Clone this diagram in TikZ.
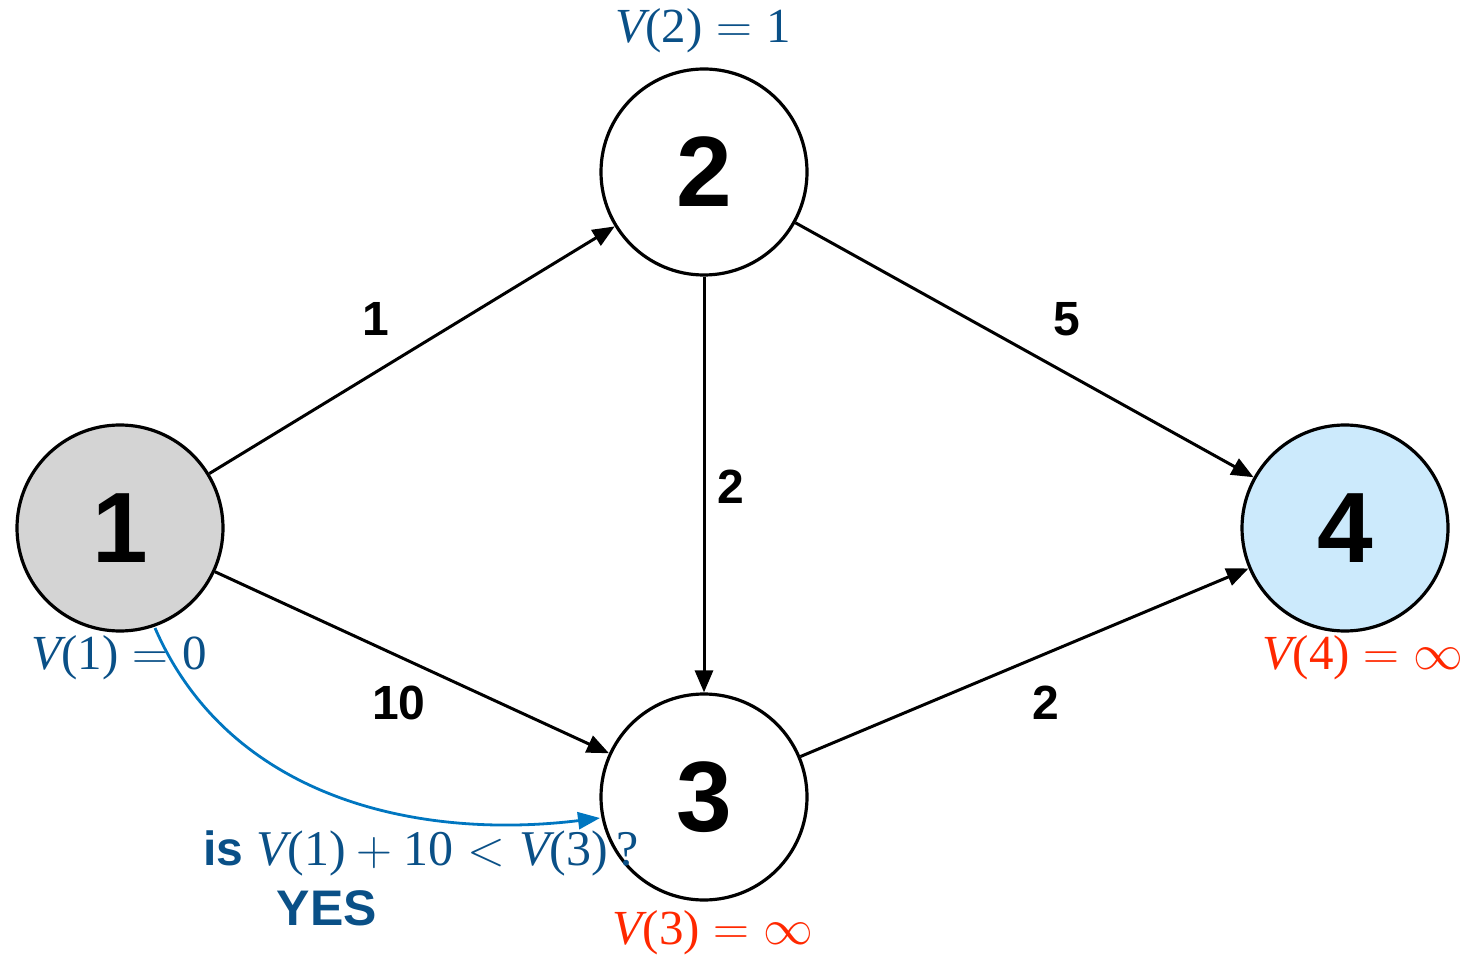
\documentclass[tikz,border=0pt]{standalone}
\usepackage{fontspec}
\setmainfont{Liberation Sans}
\newfontfamily\tnr{Liberation Serif}
\usetikzlibrary{arrows.meta}
\definecolor{vblue}{RGB}{10,80,135}
\definecolor{cblue}{RGB}{0,118,192}
\definecolor{vred}{RGB}{255,40,0}
\definecolor{ngray}{RGB}{212,212,212}
\definecolor{nblue}{RGB}{204,234,252}
\newcommand{\Vl}[2]{{\itshape V}(#1)${}={}$#2}
\tikzset{
  vnode/.style={circle,draw=black,line width=1.6pt,minimum size=103pt,inner sep=0pt,font=\fontsize{50}{52}\selectfont\bfseries},
  edgearrow/.style={line width=1.5pt,-{Triangle[length=11pt,width=9pt]}},
  elabel/.style={font=\fontsize{24}{26}\selectfont\bfseries},
  vlabel/.style={font=\tnr\fontsize{24.5}{28}\selectfont},
}
\begin{document}
\begin{tikzpicture}[x=0.5pt,y=-0.5pt]
\useasboundingbox (0,0) rectangle (1466,956);
\node[vnode,fill=ngray] (n1) at (120,528) {1};
\node[vnode,fill=white] (n2) at (704,172) {2};
\node[vnode,fill=white] (n3) at (704,797) {3};
\node[vnode,fill=nblue] (n4) at (1345,528) {4};

\draw[edgearrow] (n1) -- (n2);
\draw[edgearrow] (n1) -- (n3);
\draw[edgearrow] (n2) -- (n3);
\draw[edgearrow] (n2) -- (n4);
\draw[edgearrow] (n3) -- (n4);

\node[elabel] (l12) at (376,319) {1};
\node[elabel] (l13) at (399,703) {10};
\node[elabel] (l23) at (731,487) {2};
\node[elabel] (l24) at (1067,319) {5};
\node[elabel] (l34) at (1046,703) {2};

\node[vlabel,text=vblue] (v2) at (703,31) {\Vl{2}{1}};
\node[vlabel,text=vblue] (v1) at (119,658) {\Vl{1}{0}};
\node[vlabel,text=vred] (v4) at (1363,658) {\Vl{4}{$\infty$}};
\node[vlabel,text=vred] (v3) at (713,933) {\Vl{3}{$\infty$}};

\coordinate (cs) at (155,628);
\coordinate (ce) at (600,818);
\draw[line width=1.4pt,cblue,-{Triangle[length=11pt,width=8.5pt]}] (cs) .. controls (230,800) and (420,840) .. (ce);

\node[text=vblue,anchor=base] (q) at (421,865) {{\fontsize{24}{27}\selectfont\bfseries is\ }{\tnr\fontsize{25}{28}\selectfont{\itshape V}(1)${}+{}$10${}<{}${\itshape V}(3)\,?}};
\node[text=vblue,font=\fontsize{25}{27}\selectfont\bfseries] (yes) at (327,908) {YES};
\end{tikzpicture}
\end{document}
